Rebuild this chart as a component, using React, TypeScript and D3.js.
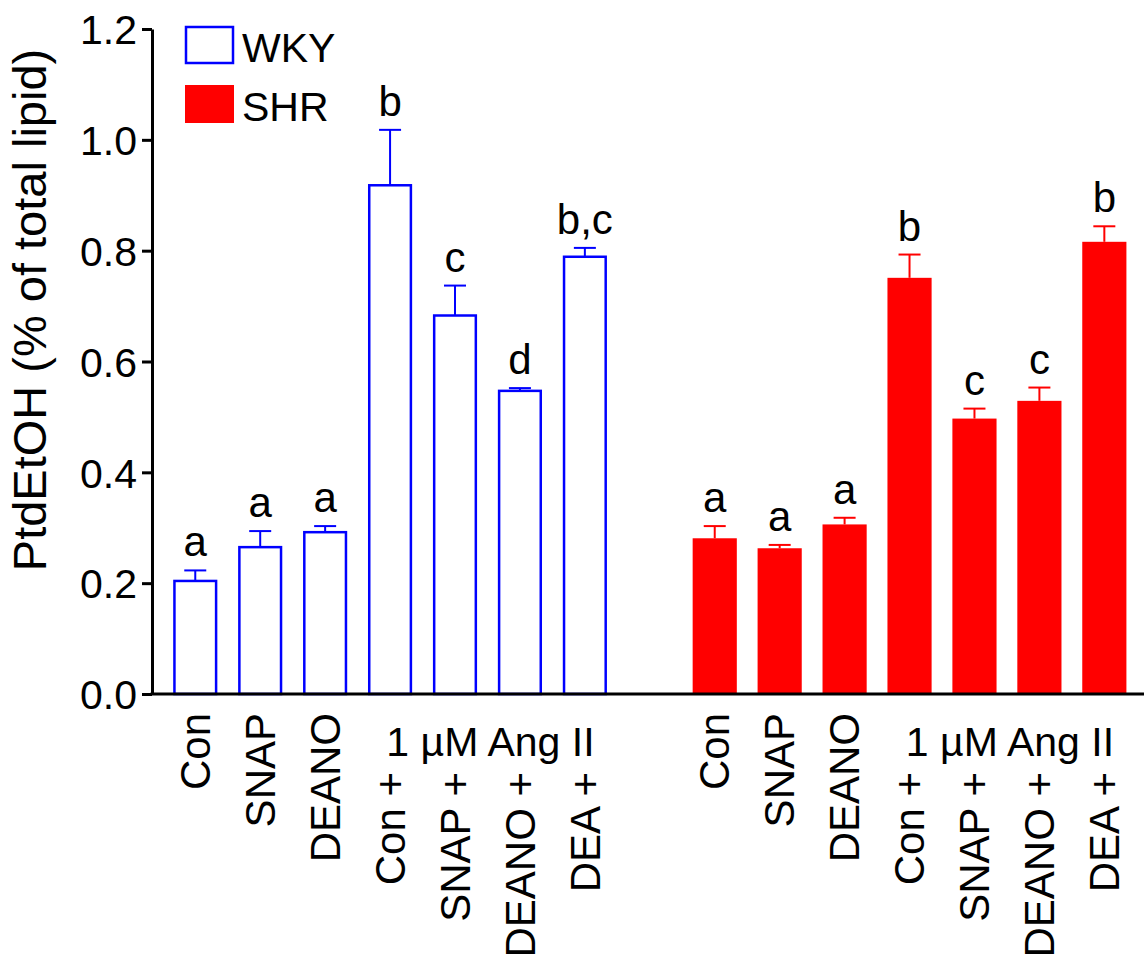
import { useEffect, useRef } from "react";
import * as d3 from "d3";

const treatments = ["Con", "SNAP", "DEANO", "Con +", "SNAP +", "DEANO +", "DEA +"];
const wkyMeans = [0.204, 0.265, 0.292, 0.918, 0.683, 0.547, 0.789];
const wkyErrors = [0.019, 0.029, 0.011, 0.1, 0.054, 0.005, 0.016];
const wkyLetters = ["a", "a", "a", "b", "c", "d", "b,c"];
const shrMeans = [0.281, 0.263, 0.306, 0.751, 0.497, 0.529, 0.816];
const shrErrors = [0.022, 0.006, 0.012, 0.042, 0.018, 0.024, 0.028];
const shrLetters = ["a", "a", "a", "b", "c", "c", "b"];
const yTicks = [0, 0.2, 0.4, 0.6, 0.8, 1.0, 1.2];
const angLabel = "1 µM Ang II";
const yLabel = "PtdEtOH (% of total lipid)";

export default function App() {
  const svgRef = useRef<SVGSVGElement>(null);

  useEffect(() => {
    const width = 1144;
    const height = 958;
    const font = "'Liberation Sans', Arial, sans-serif";
    const blue = "#0000ff";
    const red = "#ff0000";

    const svg = d3.select(svgRef.current)
      .attr("width", width)
      .attr("height", height)
      .attr("viewBox", [0, 0, width, height])
      .style("font-family", font);
    svg.selectAll("*").remove();

    const bars = [
      ...treatments.map((t, i) => ({ key: "WKY-" + i, label: t, i, mean: wkyMeans[i], err: wkyErrors[i], letter: wkyLetters[i], group: "WKY" })),
      ...treatments.map((t, i) => ({ key: "SHR-" + i, label: t, i, mean: shrMeans[i], err: shrErrors[i], letter: shrLetters[i], group: "SHR" })),
    ];
    const slots = [...bars.slice(0, 7).map(d => d.key), "gap", ...bars.slice(7).map(d => d.key)];

    const x = d3.scaleBand()
      .domain(slots)
      .range([162.8, 1136.8])
      .paddingInner(0.32)
      .paddingOuter(0.16);

    const y = d3.scaleLinear()
      .domain([0, 1.2])
      .range([694, 29]);

    const cx = (d) => x(d.key) + x.bandwidth() / 2;

    // bars
    svg.append("g")
      .selectAll("rect")
      .data(bars)
      .join("rect")
      .attr("x", d => d.group === "WKY" ? x(d.key) + 1.25 : x(d.key))
      .attr("y", d => y(d.mean))
      .attr("width", d => d.group === "WKY" ? x.bandwidth() - 2.5 : x.bandwidth())
      .attr("height", d => y(0) - y(d.mean))
      .attr("fill", d => d.group === "WKY" ? "white" : red)
      .attr("stroke", d => d.group === "WKY" ? blue : "none")
      .attr("stroke-width", 2.5);

    // error bars
    const eb = svg.append("g")
      .selectAll("g")
      .data(bars)
      .join("g")
      .attr("stroke", d => d.group === "WKY" ? blue : red)
      .attr("stroke-width", 2);
    eb.append("line")
      .attr("x1", cx).attr("x2", cx)
      .attr("y1", d => y(d.mean))
      .attr("y2", d => y(d.mean + d.err));
    eb.append("line")
      .attr("x1", d => cx(d) - 11).attr("x2", d => cx(d) + 11)
      .attr("y1", d => y(d.mean + d.err))
      .attr("y2", d => y(d.mean + d.err));

    // significance letters
    svg.append("g")
      .selectAll("text")
      .data(bars)
      .join("text")
      .attr("x", cx)
      .attr("y", d => y(d.mean + d.err) - 14)
      .attr("text-anchor", "middle")
      .attr("font-size", 42)
      .text(d => d.letter);

    // y axis
    const yAxis = svg.append("g")
      .attr("transform", "translate(152,0)")
      .call(d3.axisLeft(y).tickValues(yTicks).tickFormat(d3.format(".1f")).tickSize(10).tickSizeOuter(0).tickPadding(5));
    yAxis.select(".domain").attr("stroke-width", 3);
    yAxis.selectAll(".tick line").attr("stroke-width", 3);
    yAxis.selectAll(".tick text").attr("font-size", 41).attr("font-family", font).attr("fill", "black").attr("dy", "0.36em");

    // x axis line
    svg.append("line")
      .attr("x1", 150.5).attr("x2", width)
      .attr("y1", y(0)).attr("y2", y(0))
      .attr("stroke", "black")
      .attr("stroke-width", 3);

    // x labels
    svg.append("g")
      .selectAll("text")
      .data(bars)
      .join("text")
      .attr("transform", d => `translate(${cx(d)},${d.i < 3 ? 713 : 772}) rotate(-90)`)
      .attr("dy", "0.35em")
      .attr("text-anchor", "end")
      .attr("font-size", 42)
      .text(d => d.label);

    ["WKY", "SHR"].forEach(g => {
      const a = x(g + "-3");
      const b = x(g + "-6") + x.bandwidth();
      svg.append("text")
        .attr("x", (a + b) / 2 + 3)
        .attr("y", 756)
        .attr("text-anchor", "middle")
        .attr("font-size", 41)
        .text(angLabel);
    });

    // y label
    svg.append("text")
      .attr("transform", "translate(46,310) rotate(-90)")
      .attr("text-anchor", "middle")
      .attr("font-size", 47)
      .text(yLabel);

    // legend
    const legend = [
      { name: "WKY", fill: "white", stroke: blue, y: 26 },
      { name: "SHR", fill: red, stroke: "none", y: 85 },
    ];
    const lg = svg.append("g")
      .selectAll("g")
      .data(legend)
      .join("g");
    lg.append("rect")
      .attr("x", d => d.stroke === "none" ? 185 : 186)
      .attr("y", d => d.stroke === "none" ? d.y : d.y + 1)
      .attr("width", d => d.stroke === "none" ? 49 : 47)
      .attr("height", d => d.stroke === "none" ? 38 : 36)
      .attr("fill", d => d.fill)
      .attr("stroke", d => d.stroke)
      .attr("stroke-width", 2.5);
    lg.append("text")
      .attr("x", 242)
      .attr("y", d => d.y + 36)
      .attr("font-size", 41)
      .text(d => d.name);
  }, []);

  return (
    <svg ref={svgRef} style={{ position: "absolute", left: 0, top: 0 }}></svg>
  );
}
